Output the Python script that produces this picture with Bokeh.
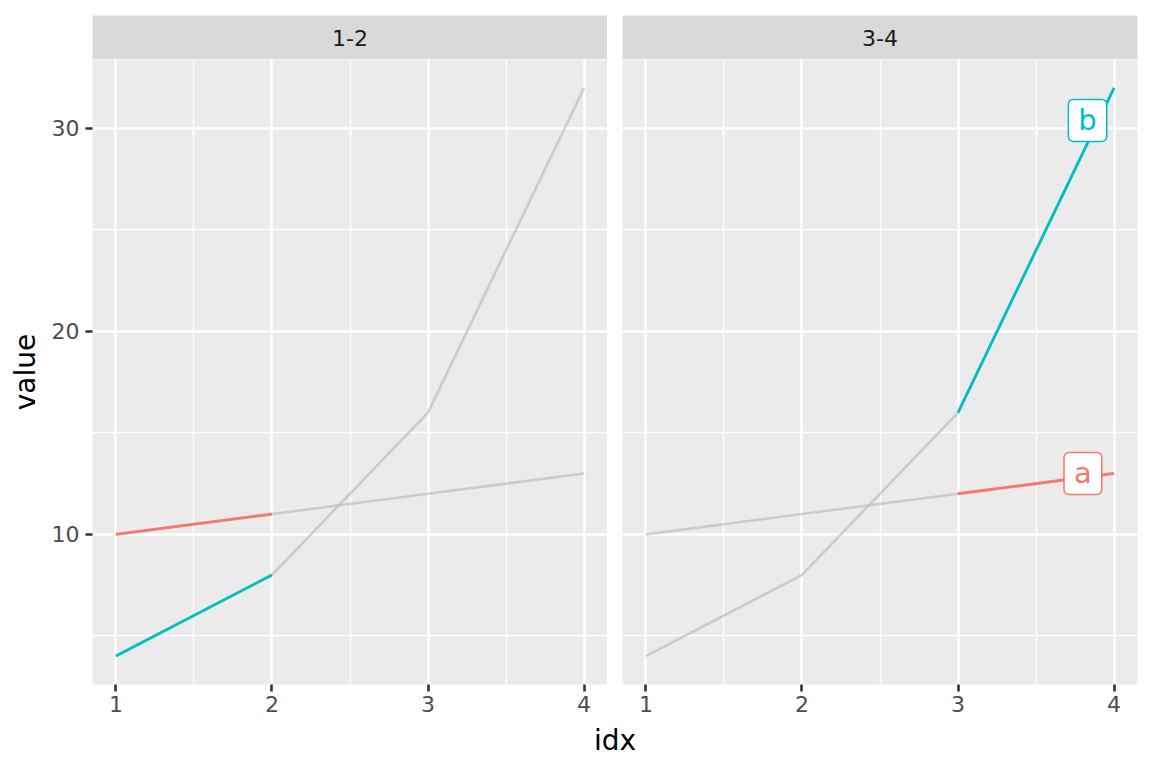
#Faceted highlight line chart (two panels) drawn with bokeh

from bokeh.plotting import figure
from bokeh.models import Range1d, FixedTicker, ColumnDataSource
from bokeh.layouts import column, row
from bokeh.core.properties import value
from bokeh.embed import file_html
from bokeh.resources import INLINE

##### DATA #####
idx = [1, 2, 3, 4]
series_names = ["a", "b"]
series_values = {"a": [10, 11, 12, 13],
                 "b": [4, 8, 16, 32]}
series_colors = {"a": "#F8766D", "b": "#00BFC4"}

#facet panels and the idx values highlighted in each
panel_names = ["1-2", "3-4"]
panel_idx = {"1-2": [1, 2], "3-4": [3, 4]}

#repelled labels shown in the last panel
label_text = ["a", "b"]
label_x = [3.80, 3.83]
label_y = [13.0, 30.4]
label_colors = ["#F8766D", "#00BFC4"]

x_ticks = [1, 2, 3, 4]
x_minor = [1.5, 2.5, 3.5]
y_ticks = [10, 20, 30]
y_minor = [5, 15, 25]

FONT = "DejaVu Sans"
FRAME_W = 515
FRAME_H = 625
LEFT = 92
GAP = 15
RIGHT = 5


def make_strip(name, left, right, top):
    s = figure(output_backend="svg", toolbar_location=None,
               frame_width=FRAME_W, frame_height=44,
               x_range=Range1d(0, 1), y_range=Range1d(0, 1),
               min_border=0, min_border_left=left, min_border_right=right,
               min_border_top=top, min_border_bottom=0)
    s.background_fill_color = "#D9D9D9"
    s.border_fill_color = "white"
    s.outline_line_color = None
    s.xaxis.visible = False
    s.yaxis.visible = False
    s.grid.visible = False
    s.text(x=[0.5], y=[0.5], text=[name], text_align="center",
           text_baseline="middle", text_font=value(FONT),
           text_font_size="22px", text_color="#1A1A1A")
    return s


def make_panel(name, left, right, show_y):
    p = figure(output_backend="svg", toolbar_location=None,
               frame_width=FRAME_W, frame_height=FRAME_H,
               x_range=Range1d(0.85, 4.15), y_range=Range1d(2.6, 33.4),
               min_border=0, min_border_left=left, min_border_right=right,
               min_border_top=0, min_border_bottom=38)
    p.background_fill_color = "#EBEBEB"
    p.border_fill_color = "white"
    p.outline_line_color = None

    #grid lines
    p.xaxis.ticker = FixedTicker(ticks=x_ticks, minor_ticks=x_minor)
    p.yaxis.ticker = FixedTicker(ticks=y_ticks, minor_ticks=y_minor)
    p.xgrid.ticker = FixedTicker(ticks=x_ticks, minor_ticks=x_minor)
    p.ygrid.ticker = FixedTicker(ticks=y_ticks, minor_ticks=y_minor)
    p.grid.grid_line_color = "white"
    p.grid.grid_line_width = 2.6
    p.grid.minor_grid_line_color = "white"
    p.grid.minor_grid_line_width = 1.3

    #axes
    for ax in [p.xaxis, p.yaxis]:
        ax.axis_line_color = None
        ax.major_tick_line_color = "#333333"
        ax.major_tick_line_width = 2.6
        ax.major_tick_in = 0
        ax.major_tick_out = 7
        ax.minor_tick_line_color = None
        ax.major_label_text_color = "#4D4D4D"
        ax.major_label_text_font = FONT
        ax.major_label_text_font_size = "22px"
    p.xaxis.major_label_standoff = 4
    p.yaxis.major_label_standoff = 6
    if show_y:
        p.yaxis.axis_label = "value"
        p.yaxis.axis_label_text_font = FONT
        p.yaxis.axis_label_text_font_size = "28px"
        p.yaxis.axis_label_text_font_style = "normal"
        p.yaxis.axis_label_text_color = "black"
        p.yaxis.axis_label_standoff = 7
    else:
        p.yaxis.visible = False

    #unhighlighted full series in grey
    for s in series_names:
        p.line(idx, series_values[s], line_color="#BEBEBE", line_alpha=0.7,
               line_width=2.6)

    #highlighted part of each series
    for s in series_names:
        xs = [i for i in idx if i in panel_idx[name]]
        ys = [series_values[s][idx.index(i)] for i in xs]
        p.line(xs, ys, line_color=series_colors[s], line_width=2.8)
    return p


strip1 = make_strip(panel_names[0], LEFT, 0, 15)
strip2 = make_strip(panel_names[1], GAP, RIGHT, 15)
p1 = make_panel(panel_names[0], LEFT, 0, True)
p2 = make_panel(panel_names[1], GAP, RIGHT, False)

#labels for the series in the last panel
lab = ColumnDataSource(dict(x=label_x, y=label_y, text=label_text, color=label_colors))
p2.text(x="x", y="y", text="text", source=lab, text_color="color",
        text_align="center", text_baseline="middle", text_font=value(FONT),
        text_font_size="29px", background_fill_color="white",
        border_line_color="color", border_line_width=1.5, border_radius=5,
        padding=dict(left=10, right=10, top=4, bottom=4))

#shared x axis title
total_w = LEFT + FRAME_W + GAP + FRAME_W + RIGHT
xl = figure(output_backend="svg", toolbar_location=None,
            frame_width=total_w, frame_height=40,
            x_range=Range1d(0, total_w), y_range=Range1d(0, 1), min_border=0)
xl.outline_line_color = None
xl.xaxis.visible = False
xl.yaxis.visible = False
xl.grid.visible = False
xl.text(x=[LEFT + (FRAME_W * 2 + GAP) / 2], y=[0.56], text=["idx"],
        text_align="center", text_baseline="middle", text_font=value(FONT),
        text_font_size="28px", text_color="black")

page = column(row(strip1, strip2), row(p1, p2), xl)
open("out.html", "w").write(file_html(page, INLINE))
